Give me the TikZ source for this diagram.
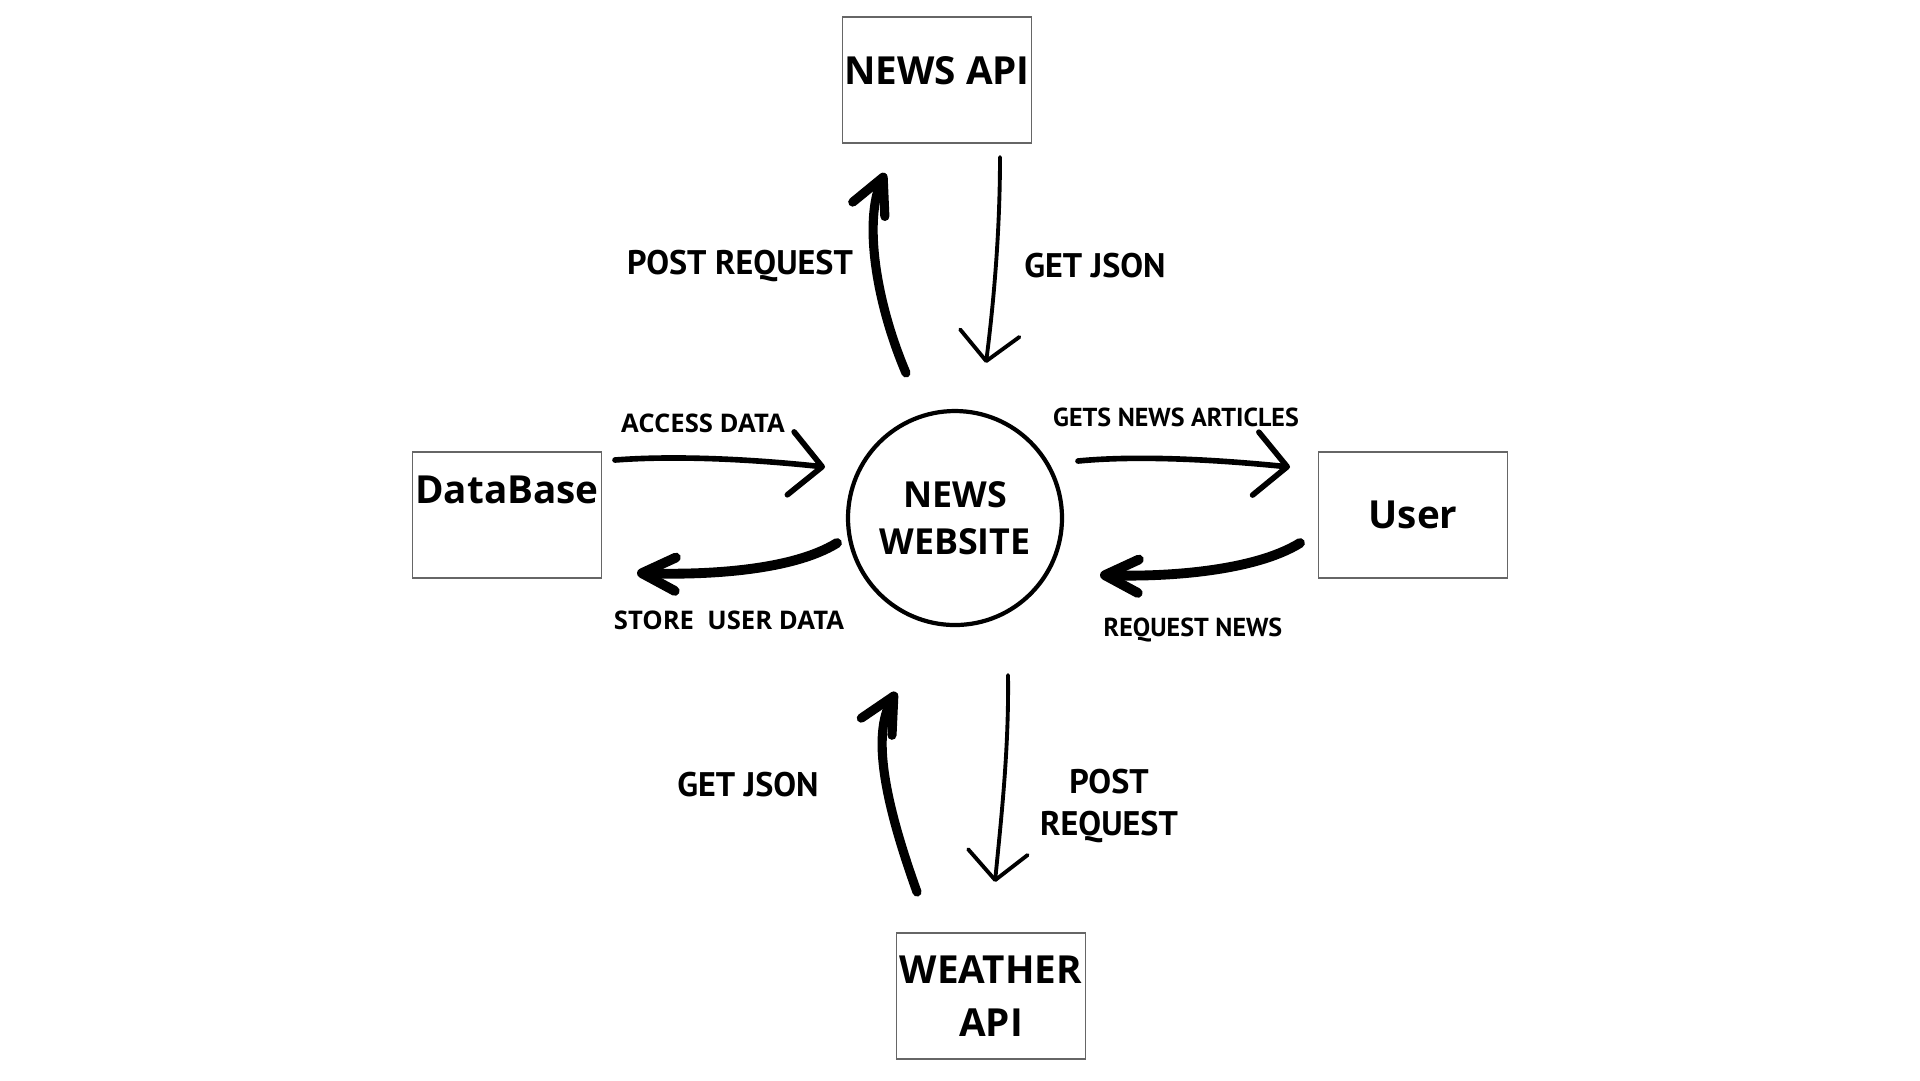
\documentclass[tikz,border=0pt]{standalone}
\usepackage{fontspec}
\setmainfont{Open Sans}
\newfontfamily\labelfont{PT Sans}
\usetikzlibrary{arrows.meta,positioning}

\begin{document}
\begin{tikzpicture}[
        x=0.1mm, y=-0.1mm,
        every node/.style={inner sep=0pt, align=center},
        box/.style={draw=black!60, line width=0.5pt, minimum width=1.89cm, minimum height=1.26cm, font=\bfseries\fontsize{11}{15}\selectfont},
        hub/.style={draw, circle, line width=1.2pt, minimum size=2.14cm, font=\bfseries\fontsize{10.2}{13.4}\selectfont},
        biglabel/.style={font=\labelfont\bfseries\fontsize{9.7}{12}\selectfont},
        smalllabel/.style={font=\labelfont\bfseries\fontsize{7.4}{9}\selectfont},
        widelabel/.style={font=\bfseries\fontsize{7.3}{9}\selectfont},
        heavyarr/.style={line width=2.6pt, line cap=round, -{Straight Barb[length=10pt, width=10pt, round]}},
        lightarr/.style={line width=1.1pt, line cap=round, -{Straight Barb[length=8pt, width=17pt, round]}},
        sidearr/.style={line width=1.6pt, line cap=round, -{Straight Barb[length=9pt, width=18pt, round]}},
        backarr/.style={line width=2.8pt, line cap=round, -{Straight Barb[length=9.5pt, width=9.5pt, round]}}
        ]
        \useasboundingbox (0,0) rectangle (1920,1080);
        % Nodes
        \node[hub] (web) at (955,518) {NEWS\\WEBSITE};
        \node[box, text depth=2mm] (newsapi) at (937,80) {NEWS API};
        \node[box, text depth=5mm] (db) at (507,515) {DataBase};
        \node[box] (user) at (1413,515) {User};
        \node[box] (weather) at (991,996) {WEATHER\\API};

        % Labels
        \node[biglabel] (postup) at (740,266) {POST REQUEST};
        \node[biglabel] (jsonup) at (1095,266) {GET JSON};
        \node[biglabel] (jsondown) at (748,785) {GET JSON};
        \node[biglabel] (postdown) at (1109,806) {POST\\REQUEST};
        \node[widelabel] (access) at (703,423) {ACCESS DATA};
        \node[widelabel] (store) at (729,620) {STORE\ \ USER DATA};
        \node[smalllabel] (gets) at (1176,417) {GETS NEWS ARTICLES};
        \node[smalllabel] (reqnews) at (1193,630) {REQUEST NEWS};

        % Arrow ends
        \coordinate (postup-s) at (906,373);
        \coordinate (postup-e) at (885,173);
        \coordinate (jsonup-s) at (1000,157);
        \coordinate (jsonup-e) at (986,363);
        \coordinate (jsondown-s) at (917,892);
        \coordinate (jsondown-e) at (896,692);
        \coordinate (postdown-s) at (1008,675);
        \coordinate (postdown-e) at (995,882);
        \coordinate (access-s) at (615,460);
        \coordinate (access-e) at (825,467);
        \coordinate (store-s) at (837,543);
        \coordinate (store-e) at (637,573);
        \coordinate (gets-s) at (1078,461);
        \coordinate (gets-e) at (1290,467);
        \coordinate (reqnews-s) at (1300,543);
        \coordinate (reqnews-e) at (1100,575);

        % Arrows
        \draw[heavyarr] (postup-s) .. controls (875,300) and (864,220) .. (postup-e);
        \draw[lightarr] (jsonup-s) .. controls (1000,230) and (994,300) .. (jsonup-e);
        \draw[heavyarr] (jsondown-s) .. controls (884,800) and (872,735) .. (jsondown-e);
        \draw[lightarr] (postdown-s) .. controls (1009,750) and (1001,820) .. (postdown-e);
        \draw[sidearr] (access-s) .. controls (680,455) and (760,460) .. (access-e);
        \draw[backarr] (store-s) .. controls (790,572) and (700,575) .. (store-e);
        \draw[sidearr] (gets-s) .. controls (1140,455) and (1220,460) .. (gets-e);
        \draw[backarr] (reqnews-s) .. controls (1253,572) and (1163,577) .. (reqnews-e);
    \end{tikzpicture}
\end{document}
